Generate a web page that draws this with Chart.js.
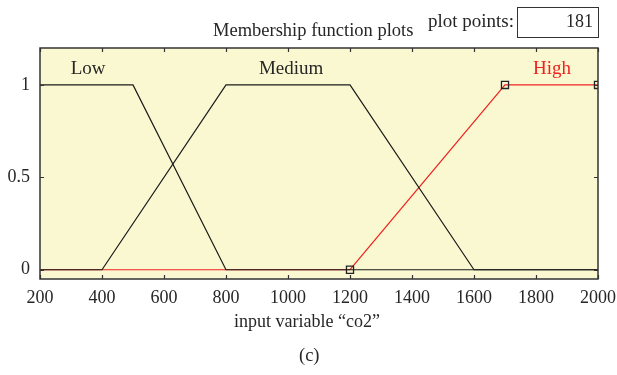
<!DOCTYPE html>
<html>
<head>
<meta charset="utf-8">
<script src="https://cdn.jsdelivr.net/npm/chart.js@4.4.1/dist/chart.umd.min.js"></script>
<style>
  html, body { margin: 0; padding: 0; background: #fff; }
  #wrap { position: relative; width: 617px; height: 375px; font-family: "Liberation Serif", "DejaVu Serif", serif; color: #262626; }
  #mf { position: absolute; left: 0; top: 0; }
  .txt { position: absolute; white-space: nowrap; line-height: 1; }
  #title { left: 213px; top: 21px; font-size: 18.5px; }
  #pp { left: 428px; top: 11px; font-size: 19px; }
  #ppbox { position: absolute; left: 517px; top: 7px; width: 82px; height: 31px; border: 1px solid #333; box-sizing: border-box; }
  #ppval { right: 24px; top: 12px; font-size: 18px; }
  #xlab { left: 234px; top: 312px; font-size: 18px; }
  #sub { left: 299px; top: 346px; font-size: 18.5px; }
</style>
</head>
<body>
<div id="wrap">
  <canvas id="mf" width="617" height="375"></canvas>
  <div class="txt" id="title">Membership function plots</div>
  <div class="txt" id="pp">plot points:</div>
  <div id="ppbox"></div>
  <div class="txt" id="ppval">181</div>
  <div class="txt" id="xlab">input variable “co2”</div>
  <div class="txt" id="sub">(c)</div>
</div>
<script>
// data
const xTicks = [200, 400, 600, 800, 1000, 1200, 1400, 1600, 1800, 2000];
const yTicks = [0, 0.5, 1];
const mfNames = ['Low', 'Medium', 'High'];
const lowX = [200, 500, 800, 2000];
const lowY = [1, 1, 0, 0];
const mediumX = [200, 400, 800, 1200, 1600, 2000];
const mediumY = [0, 0, 1, 1, 0, 0];
const highX = [200, 1200, 1700, 2000];
const highY = [0, 0, 1, 1];
const highMarked = [false, true, true, true];

// where the names sit (x value, y value)
const labelAt = [[355, 1.085], [1010, 1.085], [1852, 1.085]];
const labelColor = ['#262626', '#262626', '#ee2222'];

const pts = (xs, ys) => xs.map((x, i) => ({ x: x, y: ys[i] }));
const FONT = "'Liberation Serif', 'DejaVu Serif', serif";

const framePlugin = {
    id: 'frame',
    beforeDraw(chart) {
        const a = chart.chartArea, c = chart.ctx;
        c.save();
        c.fillStyle = '#faf8d0';
        c.fillRect(a.left, a.top, a.right - a.left, a.bottom - a.top);
        c.restore();
    },
    afterDraw(chart) {
        const a = chart.chartArea, c = chart.ctx;
        const xs = chart.scales.x, ys = chart.scales.y;
        c.save();
        c.strokeStyle = '#333';
        c.lineWidth = 1.5;
        c.strokeRect(a.left, a.top, a.right - a.left, a.bottom - a.top);
        c.lineWidth = 1.2;
        c.beginPath();
        xTicks.forEach(v => {
            const px = Math.round(xs.getPixelForValue(v)) + 0.5;
            c.moveTo(px, a.bottom); c.lineTo(px, a.bottom - 4);
            c.moveTo(px, a.top); c.lineTo(px, a.top + 4);
        });
        yTicks.forEach(v => {
            const py = Math.round(ys.getPixelForValue(v)) + 0.5;
            c.moveTo(a.left, py); c.lineTo(a.left + 4, py);
            c.moveTo(a.right, py); c.lineTo(a.right - 4, py);
        });
        c.stroke();
        c.restore();
    },
    afterDatasetsDraw(chart) {
        const c = chart.ctx, xs = chart.scales.x, ys = chart.scales.y;
        c.save();
        c.font = '19px ' + FONT;
        c.textAlign = 'center';
        c.textBaseline = 'middle';
        mfNames.forEach((n, i) => {
            c.fillStyle = labelColor[i];
            c.fillText(n, xs.getPixelForValue(labelAt[i][0]), ys.getPixelForValue(labelAt[i][1]));
        });
        c.restore();
    }
};

new Chart(document.getElementById('mf'), {
    type: 'scatter',
    data: {
        datasets: [
            {
                label: 'Low', data: pts(lowX, lowY), showLine: true,
                borderColor: '#1a1a1a', borderWidth: 1.2, pointRadius: 0, order: 1
            },
            {
                label: 'Medium', data: pts(mediumX, mediumY), showLine: true,
                borderColor: '#1a1a1a', borderWidth: 1.2, pointRadius: 0, order: 2
            },
            {
                label: 'High', data: pts(highX, highY), showLine: true,
                borderColor: '#ee2222', borderWidth: 1.2, order: 3,
                pointStyle: 'rect',
                pointRadius: highMarked.map(m => m ? 5 : 0),
                pointBackgroundColor: 'rgba(0,0,0,0)',
                pointBorderColor: '#222',
                pointBorderWidth: 1.3
            }
        ]
    },
    plugins: [framePlugin],
    options: {
        responsive: false,
        animation: false,
        layout: { padding: { top: 48, right: 19, bottom: 0, left: 0 } },
        plugins: { legend: { display: false }, tooltip: { enabled: false } },
        scales: {
            x: {
                type: 'linear', min: 200, max: 2000,
                grid: { display: false, drawTicks: false },
                border: { display: false },
                afterBuildTicks: ax => { ax.ticks = xTicks.map(v => ({ value: v })); },
                afterFit: ax => { ax.height = 96; ax.paddingLeft = 0; ax.paddingRight = 0; },
                ticks: { color: '#262626', padding: 8, font: { family: FONT, size: 18 }, maxRotation: 0, autoSkip: false, callback: v => String(v) }
            },
            y: {
                type: 'linear', min: -0.05, max: 1.2,
                grid: { display: false, drawTicks: false },
                border: { display: false },
                afterBuildTicks: ax => { ax.ticks = yTicks.map(v => ({ value: v })); },
                afterFit: ax => { ax.width = 40; ax.paddingTop = 0; ax.paddingBottom = 0; },
                ticks: { color: '#262626', padding: 10, font: { family: FONT, size: 18 }, callback: v => String(v) }
            }
        }
    }
});
</script>
</body>
</html>
